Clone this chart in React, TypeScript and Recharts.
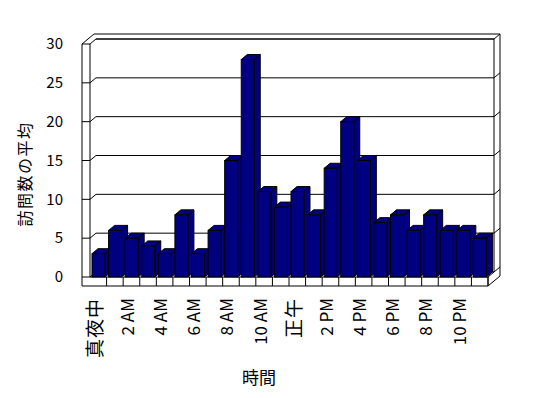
import React from 'react';
import { BarChart, Bar, XAxis, YAxis, CartesianGrid, Customized } from 'recharts';

// hourly categories and average visit counts
const hours = [
  '真夜中', '1 AM', '2 AM', '3 AM', '4 AM', '5 AM', '6 AM', '7 AM', '8 AM', '9 AM', '10 AM', '11 AM',
  '正午', '1 PM', '2 PM', '3 PM', '4 PM', '5 PM', '6 PM', '7 PM', '8 PM', '9 PM', '10 PM', '11 PM',
];
const visits = [3, 6, 5, 4, 3, 8, 3, 6, 15, 28, 11, 9, 11, 8, 14, 20, 15, 7, 8, 6, 8, 6, 6, 5];
const yTicks = [0, 5, 10, 15, 20, 25, 30];

const data = hours.map((hour, i) => ({ hour, visits: visits[i] }));

const W = 548;
const H = 398;
const L = 90;
const R = 488;
const T = 44;
const B = 277;
const DX = 6;
const DY = -5;
const WALL = 8;
const FLOOR = 9;
const FONT = "'Noto Sans CJK JP', sans-serif";

const Bar3D = (props: any) => {
  const { x, y, width, height, fill } = props;
  if (width == null || height == null) return null;
  return (
    <g stroke="#000" strokeWidth={1} fill={fill}>
      <polygon points={`${x + width},${y} ${x + width + DX},${y + DY} ${x + width + DX},${y + height + DY} ${x + width},${y + height}`} />
      <polygon points={`${x},${y} ${x + width},${y} ${x + width + DX},${y + DY} ${x + DX},${y + DY}`} />
      <rect x={x} y={y} width={width} height={height} />
    </g>
  );
};

const GridLine = (p: any) => {
  const { x1, x2, y1 } = p;
  return (
    <g key={p.key} stroke="#000" strokeWidth={1} fill="none">
      <path d={`M${x1 - WALL},${y1}H${x1}l${DX},${DY}H${x2 + DX}l${DX},${DY}`} />
    </g>
  );
};

const HourTick = (props: any) => {
  const { x, y, payload, width, visibleTicksCount } = props;
  const half = payload.offset ?? width / visibleTicksCount / 2;
  const idx = hours.indexOf(payload.value);
  const cjk = /[^\x00-\x7f]/.test(payload.value);
  return (
    <g>
      <line x1={x + half} x2={x + half} y1={y} y2={y + FLOOR} stroke="#000" />
      {idx % 2 === 0 && (
        <text
          transform={`translate(${x - 5},${y + 21}) rotate(-90)`}
          textAnchor="end"
          dominantBaseline="central"
          fontFamily={FONT}
          fontSize={cjk ? 19 : 17}
          letterSpacing={cjk ? 1 : 0}
          fill="#000"
        >
          {payload.value}
        </text>
      )}
    </g>
  );
};

const Frame = () => (
  <g>
    <g stroke="#000" strokeWidth={1} fill="none">
      <path d={`M${L - WALL},${B + FLOOR}V${T}l${2 * DX},${2 * DY}H${R + 2 * DX}V${B + FLOOR + 2 * DY}L${R},${B + FLOOR}Z`} />
      <path d={`M${L},${T}V${B}H${R}V${B + FLOOR}`} />
      <path d={`M${L + DX},${T + DY}H${R + DX}V${B + DY}`} />
      <path d={`M${R},${B}l${DX},${DY}`} />
    </g>
    <text
      transform={`translate(24,174) rotate(-90)`}
      textAnchor="middle"
      dominantBaseline="central"
      fontFamily={FONT}
      fontSize={16}
      letterSpacing={1.5}
      fill="#000"
    >
      訪問数の平均
    </text>
    <text x={259} y={376} textAnchor="middle" dominantBaseline="central" fontFamily={FONT} fontSize={17} fill="#000">
      時間
    </text>
  </g>
);

export default function App() {
  return (
    <div style={{ position: 'fixed', left: 0, top: 0, width: W, height: H, background: '#fff' }}>
      <BarChart width={W} height={H} data={data} margin={{ top: T, right: W - R, left: 0, bottom: 0 }} barSize={13}>
        <CartesianGrid horizontal={(p: any) => <GridLine {...p} />} vertical={false} />
        <Customized component={Frame} />
        <XAxis
          dataKey="hour"
          interval={0}
          height={H - B}
          tickLine={false}
          axisLine={false}
          tickSize={0}
          tickMargin={0}
          tick={<HourTick />}
        />
        <YAxis
          width={L}
          domain={[0, 30]}
          ticks={yTicks}
          tickLine={false}
          axisLine={false}
          tickSize={0}
          tickMargin={27}
          tick={{ fill: '#000', fontSize: 15, fontFamily: FONT }}
        />
        <Bar dataKey="visits" fill="#000080" shape={<Bar3D />} isAnimationActive={false} />
      </BarChart>
    </div>
  );
}
